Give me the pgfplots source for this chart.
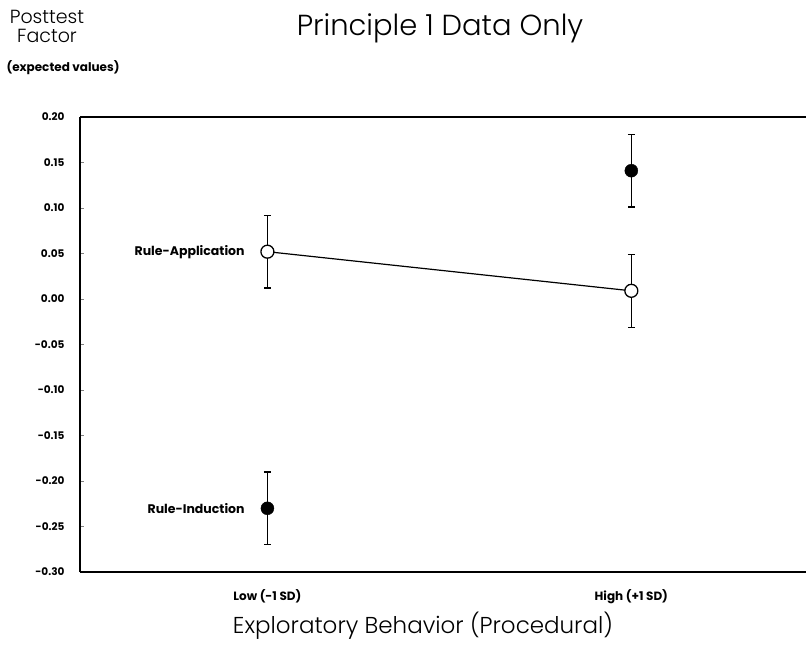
\documentclass[border=0pt]{standalone}
\usepackage{pgfplots}
\pgfplotsset{compat=1.18}
\usepackage{fontspec}
\setmainfont{Poppins}
\newfontfamily\lightfont{Poppins Light}
\begin{document}
\begin{tikzpicture}
\useasboundingbox (0pt,0pt) rectangle (806pt,670pt);
\begin{axis}[
  at={(80pt,98pt)}, anchor=south west,
  scale only axis, width=726pt, height=455pt,
  xmin=0.485, xmax=2.48, ymin=-0.30, ymax=0.20,
  axis lines=left, axis line style={line width=1.6pt,-},
  ytick={-0.30,-0.25,...,0.21},
  /pgf/number format/assume math mode=true,
  yticklabel style={font=\fontsize{10.5}{11}\selectfont\bfseries, xshift=-12pt, /pgf/number format/.cd, fixed, fixed zerofill, precision=2},
  ytick style={line width=1pt}, tick align=inside, major tick length=4pt,
  xtick={1,2}, xticklabels={Low (-1 SD), High (+1 SD)},
  xticklabel style={font=\fontsize{12}{13}\selectfont\bfseries, yshift=-14pt},
  x tick style={draw=none},
  clip=false,
]
\draw[line width=1.6pt] (rel axis cs:0,1) -- (rel axis cs:1,1);
% Rule-Application
\addplot[black, line width=1.2pt, mark=*, mark size=6.5pt, mark options={fill=white, line width=1.3pt},
  error bars/.cd, y dir=both, y explicit,
  error bar style={line width=1.2pt, black},
  error mark options={rotate=90, mark size=3.5pt, line width=1.2pt}]
  coordinates {(1,0.052) +- (0,0.040) (2,0.009) +- (0,0.040)};
% Rule-Induction
\addplot[black, only marks, mark=*, mark size=6.5pt, mark options={fill=black},
  error bars/.cd, y dir=both, y explicit,
  error bar style={line width=1.2pt, black},
  error mark options={rotate=90, mark size=3.5pt, line width=1.2pt}]
  coordinates {(1,-0.230) +- (0,0.040) (2,0.141) +- (0,0.040)};
\node[anchor=east, font=\fontsize{12.5}{13}\selectfont\bfseries] at (axis cs:0.947,0.052) {Rule-Application};
\node[anchor=east, font=\fontsize{12.5}{13}\selectfont\bfseries] at (axis cs:0.947,-0.230) {Rule-Induction};
\end{axis}
\node[font=\lightfont\fontsize{29}{32}\selectfont] at (440pt,642pt) {Principle 1 Data Only};
\node[font=\lightfont\fontsize{19}{22}\selectfont, align=center] at (47pt,644pt) {Posttest\\[-3pt]Factor};
\node[font=\fontsize{12}{13}\selectfont\bfseries, anchor=west] at (3pt,602pt) {(expected values)};
\node[font=\lightfont\fontsize{23}{26}\selectfont] at (423pt,44pt) {Exploratory Behavior (Procedural)};
\end{tikzpicture}
\end{document}
